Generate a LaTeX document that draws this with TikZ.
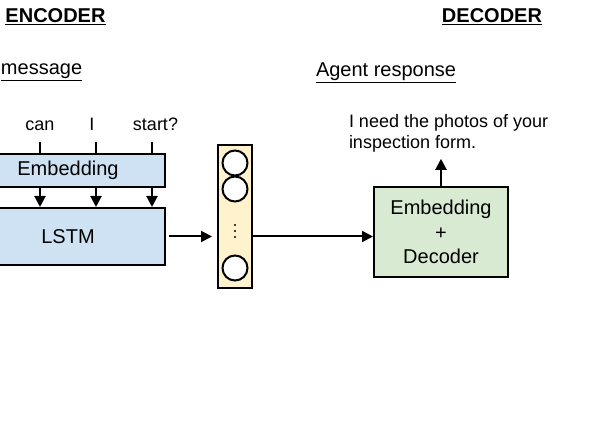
\documentclass[tikz,border=0pt]{standalone}
\usepackage{fontspec}
\setmainfont{Liberation Sans}
\usepackage{xcolor}
\usetikzlibrary{arrows.meta,positioning}
\definecolor{encblue}{HTML}{CFE2F3}
\definecolor{decgreen}{HTML}{D9EAD3}
\definecolor{vecyellow}{HTML}{FFF2CC}

\begin{document}
\begin{tikzpicture}[
  x=1pt, y=-1pt,
  line width=2pt,
  >={Triangle[length=11pt,width=11pt]},
  block/.style={draw, line width=2pt, inner sep=0pt, font=\fontsize{20}{24.5}\selectfont, align=center},
  unit/.style={draw, fill=white, circle, line width=2pt, minimum size=25pt, inner sep=0pt},
  dot/.style={circle, fill, inner sep=0.8pt},
  word/.style={inner sep=0pt, font=\fontsize{18}{21}\selectfont},
  title/.style={inner sep=0pt, font=\fontsize{20}{24}\selectfont},
]
\useasboundingbox (0,0) rectangle (598,443);
\clip (0,0) rectangle (598,443);
% headings
\node[title, font=\fontsize{20}{24}\selectfont\bfseries] (enc) at (55.5,17) {\underline{ENCODER}};
\node[title, font=\fontsize{20}{24}\selectfont\bfseries] (dect) at (492,17) {\underline{DECODER}};
\node[title, anchor=base west] (umsg) at (0,75) {\underline{message}};
\node[title, anchor=base west] (aresp) at (315,77) {\underline{Agent response}};
% input words
\node[word, anchor=base] (can) at (40,131) {can};
\node[word, anchor=base] (i) at (92,131) {I};
\node[word, anchor=base] (start) at (155.5,131) {start?};
\coordinate (t1) at (40,142);
\coordinate (t2) at (96,142);
\coordinate (t3) at (152,142);
% encoder blocks
\node[block, fill=encblue, minimum width=194pt, minimum height=33pt] (emb) at (68,170.5) {Embedding};
\node[block, fill=encblue, minimum width=194pt, minimum height=57pt] (lstm) at (68,236.5) {LSTM};
% thought vector
\node[block, fill=vecyellow, minimum width=34pt, minimum height=143pt] (vec) at (235,216.5) {};
\node[unit] (c1) at (235,163) {};
\node[unit] (c2) at (235,189) {};
\node[dot] (d1) at (235,225) {};
\node[dot] (d2) at (235,231) {};
\node[dot] (d3) at (235,237) {};
\node[unit] (c3) at (235,268) {};
% decoder
\node[block, fill=decgreen, minimum width=134pt, minimum height=90pt] (dec) at (441,232) {Embedding\\+\\Decoder};
\node[word, anchor=north west, align=left] (resp) at (348,113) {I need the photos of your\\inspection form.};
% edges
\draw (t1) -- (t1 |- emb.north);
\draw (t2) -- (t2 |- emb.north);
\draw (t3) -- (t3 |- emb.north);
\draw[->] (t1 |- emb.south) -- (t1 |- lstm.north);
\draw[->] (t2 |- emb.south) -- (t2 |- lstm.north);
\draw[->] (t3 |- emb.south) -- (t3 |- lstm.north);
\draw[->, shorten <=3pt, shorten >=5pt] (lstm.east) -- (lstm.east -| vec.west);
\draw[->] (lstm.east -| vec.east) -- (lstm.east -| dec.west);
\draw[->, shorten >=6pt] (dec.north) -- (dec.north |- resp.south);
\end{tikzpicture}
\end{document}
